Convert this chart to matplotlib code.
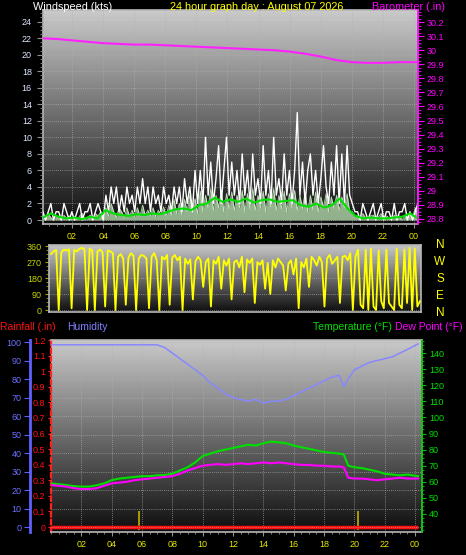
import numpy as np
import matplotlib
matplotlib.use('Agg')
import matplotlib.pyplot as plt
from matplotlib.ticker import MultipleLocator
from matplotlib.colors import LinearSegmentedColormap

plt.rcParams['font.family'] = ['Liberation Sans', 'DejaVu Sans']

# ---------------- data ----------------
title_text = "24 hour graph day : August 07 2026"
hour_ticks = [2, 4, 6, 8, 10, 12, 14, 16, 18, 20, 22, 24]
hour_tick_labels = ["02", "04", "06", "08", "10", "12", "14", "16", "18", "20", "22", "00"]

# wind gust (kts), 10-minute samples
wind_gust = [
    1, 0, 1, 2, 0, 1,   1, 0, 2, 1, 0, 1,   0, 1, 2, 0, 1, 1,   2, 0, 1, 2, 1, 0,
    3, 1, 4, 2, 4, 1,   3, 1, 4, 2, 3, 1,   4, 2, 5, 2, 4, 1,   4, 2, 3, 1, 4, 2,
    3, 1, 4, 2, 4, 1,   5, 2, 4, 1, 6, 2,   6, 2, 10, 3, 7, 2,  5, 9, 2, 6, 10, 3,
    7, 3, 6, 2, 8, 3,   6, 2, 8, 3, 5, 2,   9, 3, 6, 2, 10, 3,  5, 2, 8, 3, 6, 2,
    6, 13, 3, 7, 2, 6,  8, 3, 6, 2, 5, 9,   4, 2, 7, 3, 9, 2,   8, 2, 9, 3, 2, 1,
    1, 0, 2, 1, 0, 1,   2, 0, 1, 2, 0, 1,   1, 0, 2, 0, 1, 1,   2, 0, 1, 0, 1, 2]

# wind speed (kts), 10-minute samples
wind_speed = [
    0.5, 0, 0.8, 0.3, 0, 0.5,   0.3, 0, 0.6, 0.2, 0.5, 0,   0.4, 0, 0.5, 0.8, 0, 0.3,
    0.6, 0, 0.8, 0.5, 1, 0.3,   1.5, 0.5, 2, 1, 0.3, 1.5,   1, 0.3, 1.5, 0.5, 1.2, 0.4,
    1.5, 0.5, 1.8, 0.6, 1.2, 0.5,  1.5, 0.4, 1.2, 0.6, 1.6, 0.5,  1.8, 0.6, 2.5, 0.8, 2, 0.6,
    2.5, 1, 3, 1.2, 2.6, 0.8,   3.5, 1, 3, 1.5, 3.8, 1.2,   3, 1.5, 3.6, 1, 3.2, 1.4,
    3.4, 1.2, 3, 1.5, 3.6, 1,   3.2, 1.4, 3.8, 1.2, 3, 1.5,  3.5, 1, 3.2, 1.6, 3.8, 1.2,
    3, 1.4, 3.5, 1, 3.2, 1.5,   3.6, 1.2, 3, 1.4, 3.4, 1,   3, 1.2, 3.4, 1, 2.8, 1.5,
    3.2, 1, 2.8, 1.4, 3, 1.2,   2.8, 1.5, 3.2, 1, 1, 0.5,   0.5, 0, 0.8, 0.3, 0, 0.5,
    0.6, 0, 0.4, 0.8, 0.2, 0.5,  0.3, 0, 0.6, 0.2, 0.5, 0,   0.5, 0.2, 0.8, 0.3, 1.5, 0.5]

# average wind (kts), 30-minute samples
wind_avg = [
    0.3, 0.8, 0.4, 0.2, 0.3, 0.1, 0.4, 0.2,
    1.2, 0.8, 0.6, 0.5, 0.7, 0.6, 0.8, 0.7, 1.0, 1.3, 1.4, 1.2,
    1.8, 2.0, 2.7, 2.2, 2.5, 2.2, 2.6, 2.1, 2.4, 2.5, 2.2, 2.3,
    2.4, 1.8, 1.6, 2.0, 1.5, 1.8, 2.6, 1.4, 0.5, 0.2, 0.3, 0.2,
    0.2, 0.3, 0.4, 0.8, 0.2]

baro_hours = [0, 1, 2, 3, 4, 5, 6, 7, 8, 9, 10, 11, 12, 13, 14, 15, 16, 17, 18, 19, 20, 21, 22, 23, 24.25]
baro_values = [30.085, 30.08, 30.07, 30.06, 30.05, 30.045, 30.04, 30.04, 30.035, 30.03,
               30.025, 30.02, 30.015, 30.01, 30.005, 30.0, 29.99, 29.975, 29.955, 29.93,
               29.915, 29.91, 29.91, 29.915, 29.915]

wind_ticks = [0, 2, 4, 6, 8, 10, 12, 14, 16, 18, 20, 22, 24]
baro_ticks = [28.8, 28.9, 29.0, 29.1, 29.2, 29.3, 29.4, 29.5, 29.6, 29.7, 29.8, 29.9, 30.0, 30.1, 30.2]
baro_tick_labels = ["28.8", "28.9", "29", "29.1", "29.2", "29.3", "29.4", "29.5", "29.6",
                    "29.7", "29.8", "29.9", "30", "30.1", "30.2"]

# wind direction (degrees), 10-minute samples
wind_dir = [
    315, 330, 338, 0, 325, 340,   335, 342, 10, 338, 330, 345,  350, 340, 0, 345, 335, 0,
    330, 340, 325, 20, 335, 330,  320, 0, 300, 315, 290, 30,    295, 320, 305, 0, 290, 310,
    305, 290, 10, 300, 320, 280,  0, 300, 285, 310, 30, 295,    310, 280, 300, 0, 290, 260,
    285, 60, 275, 300, 280, 130,  270, 290, 20, 280, 260, 300,  120, 280, 250, 290, 60, 270,
    280, 240, 300, 100, 285, 265, 290, 40, 270, 255, 280, 120,  265, 90, 280, 240, 290, 270,
    250, 110, 260, 280, 200, 290, 10, 270, 240, 290, 130, 300,  280, 250, 300, 270, 20, 290,
    310, 260, 280, 300, 40, 300,  305, 280, 320, 0, 300, 340,   30, 10, 340, 0, 345, 20,
    0, 335, 50, 10, 340, 40,      20, 0, 345, 30, 10, 340,      40, 350, 0, 345, 20, 50]
dir_ticks = [0, 90, 180, 270, 360]
dir_letters = ["N", "W", "S", "E", "N"]

hum_hours = [0, 1, 2, 3, 4, 5, 6, 7,
             7.5, 8, 8.5, 9, 9.5, 10, 10.5, 11, 11.5, 12, 12.5, 13, 13.5, 14, 14.5, 15,
             15.5, 16, 16.5, 17, 17.5, 18, 18.5, 19, 19.3, 19.6,
             20, 20.5, 21, 21.5, 22, 22.5, 23, 23.5, 24.2]
hum_values = [98.5, 98.5, 98.5, 98.5, 98.5, 98.5, 98.5, 98.5,
              97, 94, 91, 88, 85, 82, 78, 75, 72, 70, 69, 68, 69, 67, 68, 68,
              69, 71, 73, 75, 77, 79, 81, 82, 76, 80,
              85, 87, 89, 90, 91, 92, 94, 96, 99]

temp_hours = [0, 0.5, 1, 1.5, 2, 2.5, 3, 3.5, 4, 4.5, 5, 5.5, 6, 6.5, 7, 7.5,
              8, 8.5, 9, 9.5, 10, 10.5, 11, 11.5, 12, 12.5, 13, 13.5, 14, 14.5, 15, 15.5,
              16, 16.5, 17, 17.5, 18, 18.5, 19, 19.3, 19.6,
              20, 20.5, 21, 21.5, 22, 22.5, 23, 23.5, 24.2]
temp_values = [59, 58.5, 58, 57.3, 57, 57, 57.8, 59, 61, 62, 62.5, 63, 63.5, 63.5, 64, 64.2,
               65, 67, 69, 72, 76, 77.5, 79, 80, 81, 82, 83, 82.5, 84, 85, 84.5, 84,
               82.5, 81.5, 80.5, 79.5, 78.5, 78, 77.5, 77, 70,
               69, 68.5, 67.5, 66.5, 65, 64.5, 64, 64.5, 63.5]
dew_values = [58, 57.5, 57, 56, 55.5, 55.5, 56, 57.5, 59, 59.5, 60, 61, 61.5, 62, 62.5, 63,
              63.5, 65, 67, 68.5, 70, 70.5, 71, 70.5, 71, 71.5, 71, 71.5, 72, 71.5, 72, 71.5,
              71, 70.5, 70.5, 70, 70, 69.5, 69.5, 69, 62.5,
              62, 62, 61.5, 61, 61.5, 62, 62.5, 62, 62]

rain_hours = [0, 24.2]
rain_values = [0.0, 0.0]
rain_event_hours = [5.8, 20.25]
rain_event_values = [0.1, 0.1]

hum_ticks = [0, 10, 20, 30, 40, 50, 60, 70, 80, 90, 100]
rain_ticks = [0, 0.1, 0.2, 0.3, 0.4, 0.5, 0.6, 0.7, 0.8, 0.9, 1.0, 1.1, 1.2]
rain_tick_labels = ["0", "0.1", "0.2", "0.3", "0.4", "0.5", "0.6", "0.7", "0.8", "0.9", "1", "1.1", "1.2"]
temp_ticks = [40, 50, 60, 70, 80, 90, 100, 110, 120, 130, 140]

# ---------------- figure ----------------
W, H = 466, 555
fig = plt.figure(figsize=(W / 100, H / 100), dpi=100, facecolor='black')


def px_axes(left, top, right, bottom):
    return fig.add_axes([left / W, 1 - bottom / H, (right - left) / W, (bottom - top) / H])


grad = np.linspace(0, 1, 256).reshape(-1, 1)
bg_cmap = LinearSegmentedColormap.from_list('bg', ['#0e0e0e', '#cacaca'])


def background(ax):
    ax.imshow(grad, aspect='auto', cmap=bg_cmap, extent=[0, 1, 0, 1],
              transform=ax.transAxes, origin='lower', zorder=0, interpolation='bilinear')


GRID = dict(color='#b0b0b0', lw=0.6, linestyle=(0, (1, 1.5)), alpha=0.8)
FRAME = '#b8b8b8'
YEL = '#e6e600'
FS = 6.5

# ---------- panel 1: wind & barometer ----------
ax1 = px_axes(43, 10, 418, 224)
background(ax1)
n = len(wind_gust)
t_w = np.linspace(0.13, 24.25, n)
t_a = np.linspace(0.13, 24.25, len(wind_avg))
ax1.fill_between(t_w, 0, wind_speed, color='#c8f5c0', alpha=0.7, lw=0, zorder=2)
ax1.plot(t_w, wind_speed, color='#d8ffd0', lw=0.6, alpha=0.8, zorder=2)
ax1.plot(t_w, wind_gust, color='white', lw=1.0, zorder=3)
ax1.plot(t_a, wind_avg, color='#00e000', lw=1.5, zorder=4)
ax1.set_xlim(0.13, 24.26)
ax1.set_ylim(-0.48, 25.4)
ax1.set_xticks(hour_ticks)
ax1.set_xticklabels(hour_tick_labels)
ax1.set_yticks(wind_ticks)
ax1.xaxis.set_minor_locator(MultipleLocator(0.5))
ax1.yaxis.set_minor_locator(MultipleLocator(0.5))
ax1.tick_params(axis='x', which='major', colors='#909090', labelcolor=YEL, length=3, labelsize=FS, pad=3)
ax1.tick_params(axis='x', which='minor', colors='#909090', length=1.5)
ax1.tick_params(axis='y', which='major', colors='#909090', labelcolor='#dce6ff', length=4, labelsize=FS, pad=4)
ax1.tick_params(axis='y', which='minor', colors='#909090', length=2)
ax1.grid(True, which='major', **GRID)
ax1.set_axisbelow(False)
for s in ax1.spines.values():
    s.set_color(FRAME)
    s.set_linewidth(1.2)

ax1b = ax1.twinx()
ax1b.plot(baro_hours, baro_values, color='#ff20ff', lw=1.5, zorder=5)
ax1b.set_ylim(28.764, 30.286)
ax1b.set_yticks(baro_ticks)
ax1b.set_yticklabels(baro_tick_labels)
ax1b.yaxis.set_minor_locator(MultipleLocator(0.025))
ax1b.tick_params(axis='y', which='major', colors='#ff00ff', labelcolor='#ff00ff', length=4, labelsize=FS, pad=2)
ax1b.tick_params(axis='y', which='minor', colors='#ff00ff', length=2)
for k, s in ax1b.spines.items():
    s.set_visible(k == 'right')
ax1b.spines['right'].set_color('#ff00ff')
ax1b.spines['right'].set_linestyle((0, (1, 1)))
ax1b.spines['right'].set_linewidth(1.2)

fig.text(33 / W, 1 - 7 / H, "Windspeed (kts)", color='white', fontsize=7.8, va='center', ha='left')
fig.text(257 / W, 1 - 7 / H, title_text, color='#ffff00', fontsize=7.8, va='center', ha='center')
fig.text(372 / W, 1 - 7 / H, "Barometer (.in)", color='#ff00ff', fontsize=7.8, va='center', ha='left')

# ---------- panel 2: wind direction ----------
ax2 = px_axes(49, 245, 421, 312)
background(ax2)
t_d = np.linspace(0.0, 24.3, len(wind_dir))
ax2.plot(t_d, wind_dir, color='#ffff00', lw=1.3, zorder=3)
ax2.set_xlim(-0.13, 24.37)
ax2.set_ylim(-11, 366)
ax2.set_xticks([])
ax2.set_yticks(dir_ticks)
ax2.yaxis.set_minor_locator(MultipleLocator(22.5))
ax2.tick_params(axis='y', which='major', colors='#a0a000', labelcolor='#c8d400', length=3, labelsize=FS, pad=2)
ax2.tick_params(axis='y', which='minor', colors='#a0a000', length=2)
ax2.grid(True, axis='y', **GRID)
for s in ax2.spines.values():
    s.set_color(FRAME)
    s.set_linewidth(1.2)
for lbl, ypx in zip(dir_letters, [245, 262, 279, 296, 313]):
    fig.text(440 / W, 1 - ypx / H, lbl, color='#ffff00', fontsize=8.5, va='center', ha='center')

# ---------- panel 3: rain / humidity / temperature ----------
ax3 = px_axes(51, 340, 422, 532)
background(ax3)
ax3.plot(rain_hours, rain_values, color='#ff1010', lw=2.5, zorder=6, solid_capstyle='butt')
ax3.vlines(rain_event_hours, -0.02, rain_event_values, color='#b8a400', lw=1.3, zorder=5)
ax3.set_xlim(0, 24.46)
ax3.set_ylim(-0.032, 1.2)
ax3.set_xticks(hour_ticks)
ax3.set_xticklabels(hour_tick_labels)
ax3.xaxis.set_minor_locator(MultipleLocator(0.5))
ax3.set_yticks(rain_ticks)
ax3.set_yticklabels(rain_tick_labels)
ax3.tick_params(axis='x', which='major', colors='#909090', labelcolor=YEL, length=3, labelsize=FS, pad=3)
ax3.tick_params(axis='x', which='minor', colors='#909090', length=1.5)
ax3.tick_params(axis='y', which='major', colors='#ff2020', labelcolor='#ff1010', length=2, labelsize=FS, pad=2)
ax3.grid(True, axis='x', **GRID)
for s in ax3.spines.values():
    s.set_color(FRAME)
    s.set_linewidth(1.2)
ax3.spines['left'].set_color('#ff2020')
ax3.spines['left'].set_linestyle((0, (2, 1.5)))
ax3.spines['left'].set_linewidth(1.6)

ax3h = ax3.twinx()
ax3h.plot(hum_hours, hum_values, color='#8888ff', lw=1.1, zorder=4)
ax3h.set_ylim(-2.7, 101.1)
ax3h.set_yticks(hum_ticks)
ax3h.yaxis.set_ticks_position('left')
ax3h.yaxis.set_label_position('left')
for k, s in ax3h.spines.items():
    s.set_visible(k == 'left')
ax3h.spines['left'].set_position(('axes', -21 / 371))
ax3h.spines['left'].set_color('#6060ff')
ax3h.spines['left'].set_linewidth(2)
ax3h.tick_params(axis='y', colors='#6060ff', labelcolor='#7070ff', length=4, labelsize=FS, pad=2)
ax3h.grid(True, axis='y', **GRID)

ax3t = ax3.twinx()
ax3t.plot(temp_hours, temp_values, color='#00e000', lw=1.5, zorder=5)
ax3t.plot(temp_hours, dew_values, color='#ff00ff', lw=1.5, zorder=5)
ax3t.set_ylim(28.8, 148.1)
ax3t.set_yticks(temp_ticks)
ax3t.yaxis.set_minor_locator(MultipleLocator(2.5))
for k, s in ax3t.spines.items():
    s.set_visible(k == 'right')
ax3t.spines['right'].set_color('#00c000')
ax3t.spines['right'].set_linestyle((0, (1, 1)))
ax3t.spines['right'].set_linewidth(1.2)
ax3t.tick_params(axis='y', which='major', colors='#00c000', labelcolor='#00e000', length=3, labelsize=FS, pad=2)
ax3t.tick_params(axis='y', which='minor', colors='#00c000', length=1.5)

fig.text(0 / W, 1 - 327 / H, "Rainfall (.in)", color='#ff1010', fontsize=7.5, va='center', ha='left')
fig.text(67 / W, 1 - 327 / H, "Humidity", color='#8080ff', fontsize=7.5, va='center', ha='left')
fig.text(392 / W, 1 - 327 / H, "Temperature (°F)", color='#00e000', fontsize=7.5, va='center', ha='right')
fig.text(395 / W, 1 - 327 / H, "Dew Point (°F)", color='#ff00ff', fontsize=7.5, va='center', ha='left')

fig.savefig('out.png', dpi=100, facecolor='black')
